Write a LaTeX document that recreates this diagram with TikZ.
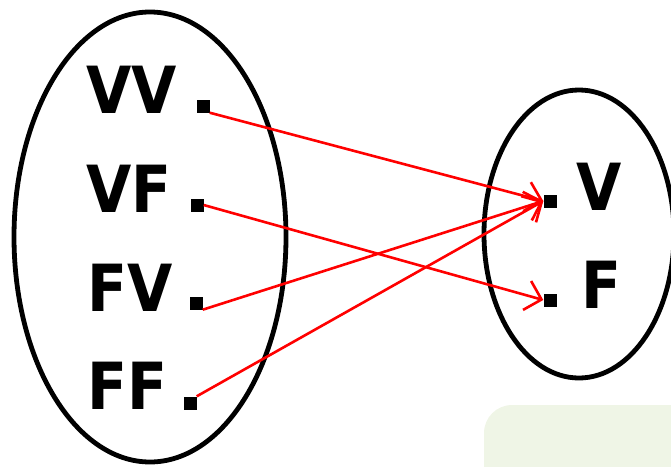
\documentclass[tikz,border=0pt]{standalone}
\usepackage{fontspec}
\setmainfont{DejaVu Sans Condensed}
\usetikzlibrary{arrows.meta}
\begin{document}
\begin{tikzpicture}[x=1pt,y=-1pt,
  lbl/.style={anchor=base west,inner sep=0pt,font=\fontsize{65}{65}\bfseries\selectfont},
  dot/.style={fill=black,draw=none,minimum size=13pt,inner sep=0pt},
  arr/.style={draw=red,line width=2.6pt,-{Straight Barb[length=15pt,width=30pt,line width=2.6pt]}},
  oval/.style={draw=black,line width=4.8pt}]
\useasboundingbox (0,0) rectangle (671,466);
\fill[fill={rgb,255:red,239;green,245;blue,230}, rounded corners=28pt] (484,405) rectangle (700,500);
\draw[oval] (150,237) ellipse [x radius=136, y radius=225];
\draw[oval] (579,234) ellipse [x radius=95, y radius=144];
\node[lbl] (tvv) at (86,113) {VV};
\node[lbl] (tvf) at (86,212) {VF};
\node[lbl] (tfv) at (87,311) {FV};
\node[lbl] (tff) at (87,409) {FF};
\node[lbl] (tv) at (576,210) {V};
\node[lbl] (tf) at (581,308) {F};
\node[dot] (vv) at (203,106) {};
\node[dot] (vf) at (197,205) {};
\node[dot] (fv) at (196,303) {};
\node[dot] (ff) at (190,403) {};
\node[dot] (v) at (550,201) {};
\node[dot] (f) at (550,300) {};
\draw[arr] (vv.south east) -- (v.west);
\draw[arr] (vf.east) -- (f.west);
\draw[arr] (fv.south east) -- (v.west);
\draw[arr] (ff.north east) -- (v.west);
\end{tikzpicture}
\end{document}
